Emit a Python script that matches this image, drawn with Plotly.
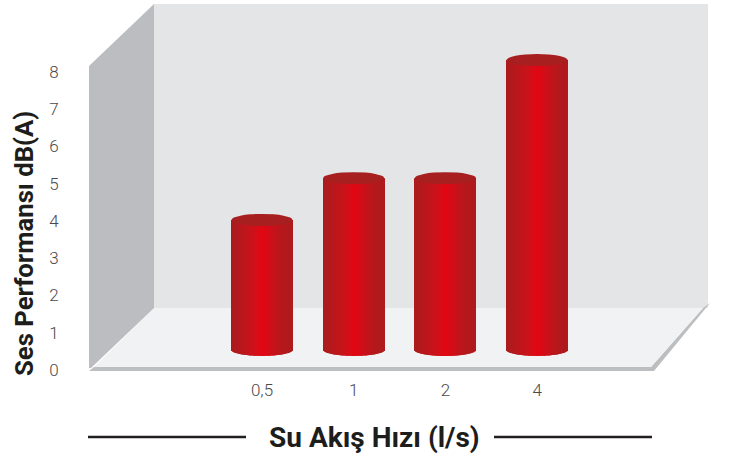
import math
import plotly.graph_objects as go

# ---- data ----
categories = ["0,5", "1", "2", "4"]
values = [4.03, 5.15, 5.15, 8.32]
base_value = 0.54
y_ticks = [0, 1, 2, 3, 4, 5, 6, 7, 8]
x_title = "Su Akış Hızı (l/s)"
y_title = "Ses Performansı dB(A)"

# ---- layout geometry (pixels of the 729x456 page) ----
W, H = 729, 456
L, R, T, B = 88, 710, 4, 370
PX_PER_Y = 37.25
PX_PER_X = 91.7
X0_PX = 262
BAR_PX = 61
CAP_PX = 6

x_range = [(L - X0_PX) / PX_PER_X, (R - X0_PX) / PX_PER_X]
y_range = [0, (B - T) / PX_PER_Y]
bar_w = BAR_PX / PX_PER_X
cap_h = CAP_PX / PX_PER_Y


def pxx(x):
    return (x - L) / (R - L)


def pxy(y):
    return (B - y) / (B - T)


def poly(points, color):
    d = "M " + " L ".join(f"{pxx(x):.5f},{pxy(y):.5f}" for x, y in points) + " Z"
    return dict(type="path", xref="paper", yref="paper", path=d, fillcolor=color,
                line=dict(width=0), layer="below")


def hline(x0, x1, y):
    return dict(type="line", xref="paper", yref="paper", x0=pxx(x0), x1=pxx(x1),
                y0=pxy(y), y1=pxy(y), line=dict(color="#231F20", width=2.5), layer="above")


# ---- cylinder shading ----
stops = [(0.0, (170, 27, 30)), (0.2, (186, 23, 27)), (0.36, (204, 17, 25)),
         (0.52, (227, 6, 19)), (0.68, (202, 16, 26)), (0.84, (180, 24, 27)),
         (1.0, (174, 26, 29))]


def shade(t):
    for (a, ca), (b, cb) in zip(stops, stops[1:]):
        if t <= b:
            f = (t - a) / (b - a)
            c = [round(p + (q - p) * f) for p, q in zip(ca, cb)]
            return f"rgb({c[0]},{c[1]},{c[2]})"
    return "rgb(174,26,29)"


fig = go.Figure()
xs = list(range(len(categories)))
n = BAR_PX
for i in range(n):
    t0 = i / n
    tc = (i + 0.5) / n
    bulge = cap_h * math.sqrt(max(0.0, 1 - (2 * tc - 1) ** 2))
    strip_base = base_value - bulge
    fig.add_trace(go.Bar(
        x=xs,
        y=[v - strip_base for v in values],
        base=strip_base,
        offset=-bar_w / 2 + t0 * bar_w,
        width=bar_w / n * (1.5 if i < n - 1 else 1.0),
        marker=dict(color=shade(tc), line=dict(width=0)),
        showlegend=False,
        hoverinfo="skip",
    ))

shapes = [
    poly([(154, T), (708, T), (708, 308), (154, 308)], "#E4E5E7"),
    poly([(89, 371), (654, 371), (710, 303), (703, 308), (651, 367), (94, 367)], "#BDBEC0"),
    poly([(94, 367), (651, 367), (703, 308), (154, 308)], "#F1F2F4"),
    poly([(89, 66), (154, T), (154, 308), (91, 368), (89, 368)], "#BCBDC0"),
    hline(88, 246, 437),
    hline(494, 652, 437),
]
for xv, v in zip(xs, values):
    shapes.append(dict(type="circle", xref="x", yref="y",
                       x0=xv - bar_w / 2, x1=xv + bar_w / 2,
                       y0=v - cap_h, y1=v + cap_h,
                       fillcolor="#A81F20", line=dict(width=0), layer="above"))

annotations = [
    dict(text=x_title, xref="paper", yref="paper", x=pxx(374), y=pxy(437),
         xanchor="center", yanchor="middle", showarrow=False,
         font=dict(family="Roboto", size=28, color="#1D1D1B", weight="bold")),
    dict(text=y_title, xref="paper", yref="paper", x=pxx(24), y=pxy(244),
         xanchor="center", yanchor="middle", showarrow=False, textangle=-90,
         font=dict(family="Roboto", size=25.7, color="#1D1D1B", weight="bold")),
]

fig.update_layout(
    width=W, height=H, autosize=False,
    margin=dict(l=L, r=W - R, t=T, b=H - B, pad=0),
    paper_bgcolor="white", plot_bgcolor="rgba(0,0,0,0)",
    barmode="overlay", showlegend=False, shapes=shapes, annotations=annotations,
    font=dict(family="Roboto", color="#4A4A4A", size=15),
    xaxis=dict(range=x_range, tickmode="array", tickvals=xs, ticktext=categories,
               showgrid=False, zeroline=False, showline=False, ticks="outside",
               ticklen=5, tickcolor="rgba(0,0,0,0)", automargin=False,
               tickfont=dict(size=17, color="#4A4A4A", weight=300)),
    yaxis=dict(range=y_range, tickmode="array", tickvals=y_ticks,
               showgrid=False, zeroline=False, showline=False, ticks="outside",
               ticklen=25, tickcolor="rgba(0,0,0,0)", automargin=False,
               tickfont=dict(size=17, color="#4A4A4A", weight=300)),
)

fig.write_html("out.html", config=dict(displayModeBar=False),
               post_script="document.body.style.margin='0';document.body.style.overflow='hidden';")
